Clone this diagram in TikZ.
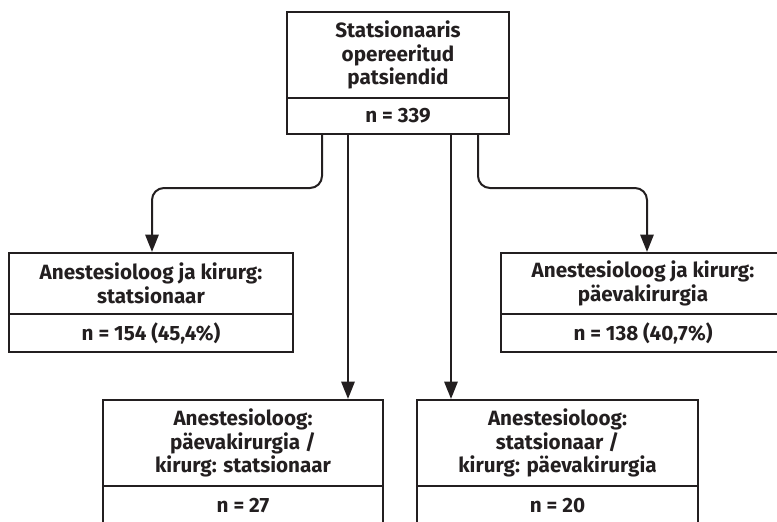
\documentclass[tikz,border=0pt]{standalone}
\usepackage{fontspec}
\setmainfont{Fira Sans}
\usetikzlibrary{arrows.meta}
\definecolor{ink}{HTML}{231F20}
\begin{document}
\begin{tikzpicture}[x=0.75pt,y=-0.75pt,
  part/.style={draw=ink, line width=1.6pt, align=center, inner sep=0pt, text=ink,
    font=\bfseries\fontsize{15.5}{17.6}\selectfont},
  arr/.style={draw=ink, line width=1.5pt, -{Triangle[width=10pt,length=13pt]}}]
\useasboundingbox (0,0) rectangle (777,521);
\clip (0,0) rectangle (777,521);
% top box
\node[part, minimum width=166.5pt, minimum height=64.5pt] (topA) at (398,55) {Statsionaaris\\opereeritud\\patsiendid};
\node[part, minimum width=166.5pt, minimum height=27pt] (topB) at (398,116) {n = 339};
% left box
\node[part, minimum width=213pt, minimum height=45.75pt] (leftA) at (151,283.5) {Anestesioloog ja kirurg:\\statsionaar};
\node[part, minimum width=213pt, minimum height=28.5pt] (leftB) at (151,333) {n = 154 (45,4\%)};
% right box
\node[part, minimum width=213pt, minimum height=45.75pt] (rightA) at (643,283.5) {Anestesioloog ja kirurg:\\päevakirurgia};
\node[part, minimum width=213pt, minimum height=28.5pt] (rightB) at (643,333) {n = 138 (40,7\%)};
% bottom left box
\node[part, minimum width=210pt, minimum height=64.5pt] (blA) at (243,443) {Anestesioloog:\\päevakirurgia /\\kirurg: statsionaar};
\node[part, minimum width=210pt, minimum height=30pt] (blB) at (243,506) {n = 27};
% bottom right box
\node[part, minimum width=210.75pt, minimum height=64.5pt] (brA) at (557.5,443) {Anestesioloog:\\statsionaar /\\kirurg: päevakirurgia};
\node[part, minimum width=210.75pt, minimum height=30pt] (brB) at (557.5,506) {n = 20};
% connector guides
\coordinate (xL) at (322,0);
\coordinate (xM1) at (348,0);
\coordinate (xM2) at (451,0);
\coordinate (xR) at (478,0);
\coordinate (xLa) at (152,0);
\coordinate (xRa) at (647,0);
\coordinate (yBend) at (0,188);
\draw[arr, rounded corners=9pt] (topB.south -| xL) |- (yBend -| xLa) -- (leftA.north -| xLa);
\draw[arr, rounded corners=9pt] (topB.south -| xR) |- (yBend -| xRa) -- (rightA.north -| xRa);
\draw[arr] (topB.south -| xM1) -- (blA.north -| xM1);
\draw[arr] (topB.south -| xM2) -- (brA.north -| xM2);
\end{tikzpicture}
\end{document}
